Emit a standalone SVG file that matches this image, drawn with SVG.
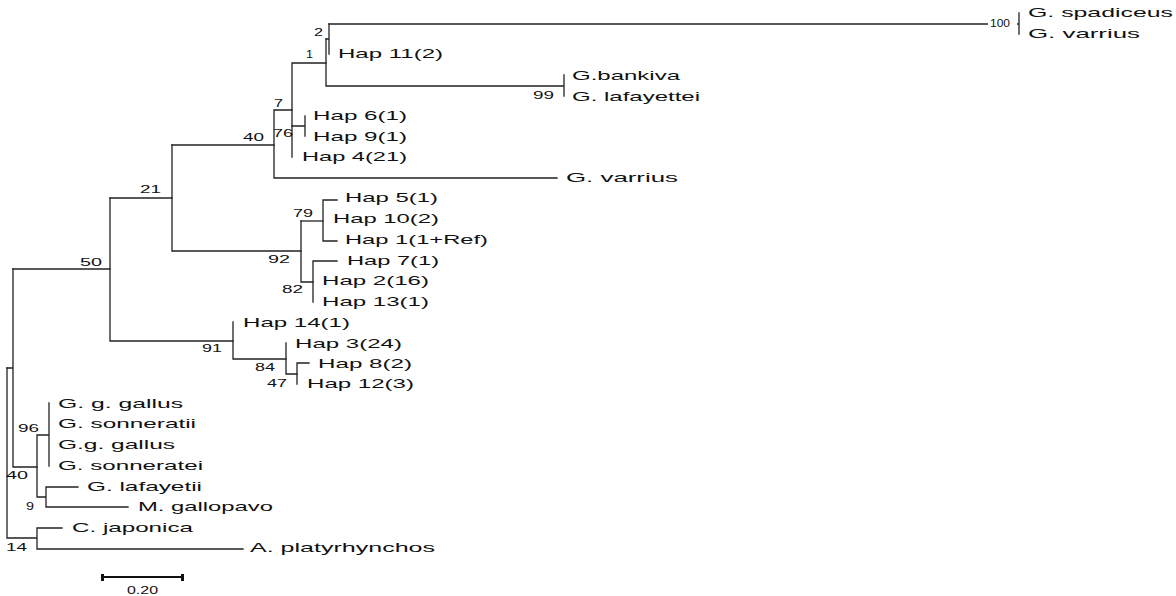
<svg xmlns="http://www.w3.org/2000/svg" width="1176" height="596" viewBox="0 0 1176 596">
<style>
.br{stroke:#222;stroke-width:1.3;fill:none;stroke-linecap:square}
.lf{font-family:"Liberation Sans",Arial,sans-serif;font-size:13px;fill:#111}
.bs{font-family:"Liberation Sans",Arial,sans-serif;font-size:10px;fill:#111}
</style>
<rect width="1176" height="596" fill="#fff"/>
<g id="connectors" class="br">
<path d="M329,24H1019M1019,13V34"/>
<path d="M329,24V54M326,39H329"/>
<path d="M326,39V86H564M564,75V96"/>
<path d="M292,63H326M292,63V157"/>
<path d="M292,126H305M305,116V136"/>
<path d="M274,110H292M274,110V178H557"/>
<path d="M172,145H274"/>
<path d="M323,200V241M323,200H337M323,241H337"/>
<path d="M301,221H323"/>
<path d="M313,261V302M313,261H337"/>
<path d="M301,221V282H313"/>
<path d="M172,251H301M172,145V251"/>
<path d="M110,198H172"/>
<path d="M297,363V384M297,363H309"/>
<path d="M286,374H297M286,343V374"/>
<path d="M233,359H286M233,322V359"/>
<path d="M110,341H233M110,198V341"/>
<path d="M13,269H110"/>
<path d="M49,403V466M37,435H49M37,435V497H46M46,487V507M46,487H78M46,507H128"/>
<path d="M13,467H37M13,269V467M7,368H13"/>
<path d="M37,528V549M37,528H62M37,549H243M7,538H37M7,368V538"/>
</g>
<g id="leaves" class="lf">
<g id="n-spadiceus"><text x="1028" y="16.5" textLength="145" lengthAdjust="spacingAndGlyphs">G. spadiceus</text></g>
<g id="n-varrius1"><text x="1028" y="37.5" textLength="112" lengthAdjust="spacingAndGlyphs">G. varrius</text></g>
<g id="n-hap11"><text x="338" y="57.5" textLength="105" lengthAdjust="spacingAndGlyphs">Hap 11(2)</text></g>
<g id="n-bankiva"><text x="572" y="79.5" textLength="108" lengthAdjust="spacingAndGlyphs">G.bankiva</text></g>
<g id="n-lafayettei"><text x="572" y="100.5" textLength="128" lengthAdjust="spacingAndGlyphs">G. lafayettei</text></g>
<g id="n-hap6"><text x="313" y="119.5" textLength="94" lengthAdjust="spacingAndGlyphs">Hap 6(1)</text></g>
<g id="n-hap9"><text x="313" y="140.5" textLength="94" lengthAdjust="spacingAndGlyphs">Hap 9(1)</text></g>
<g id="n-hap4"><text x="302" y="160.5" textLength="105" lengthAdjust="spacingAndGlyphs">Hap 4(21)</text></g>
<g id="n-varrius2"><text x="566" y="181.5" textLength="112" lengthAdjust="spacingAndGlyphs">G. varrius</text></g>
<g id="n-hap5"><text x="345" y="201.5" textLength="93" lengthAdjust="spacingAndGlyphs">Hap 5(1)</text></g>
<g id="n-hap10"><text x="333" y="222.5" textLength="106" lengthAdjust="spacingAndGlyphs">Hap 10(2)</text></g>
<g id="n-hap1"><text x="345" y="243.5" textLength="143" lengthAdjust="spacingAndGlyphs">Hap 1(1+Ref)</text></g>
<g id="n-hap7"><text x="347" y="264.5" textLength="92" lengthAdjust="spacingAndGlyphs">Hap 7(1)</text></g>
<g id="n-hap2"><text x="322" y="284.5" textLength="107" lengthAdjust="spacingAndGlyphs">Hap 2(16)</text></g>
<g id="n-hap13"><text x="322" y="305.5" textLength="107" lengthAdjust="spacingAndGlyphs">Hap 13(1)</text></g>
<g id="n-hap14"><text x="243" y="326.5" textLength="107" lengthAdjust="spacingAndGlyphs">Hap 14(1)</text></g>
<g id="n-hap3"><text x="295" y="347.5" textLength="107" lengthAdjust="spacingAndGlyphs">Hap 3(24)</text></g>
<g id="n-hap8"><text x="318" y="367.5" textLength="94" lengthAdjust="spacingAndGlyphs">Hap 8(2)</text></g>
<g id="n-hap12"><text x="307" y="387.5" textLength="107" lengthAdjust="spacingAndGlyphs">Hap 12(3)</text></g>
<g id="n-gallus1"><text x="58" y="407.5" textLength="125" lengthAdjust="spacingAndGlyphs">G. g. gallus</text></g>
<g id="n-sonneratii"><text x="58" y="427.5" textLength="138" lengthAdjust="spacingAndGlyphs">G. sonneratii</text></g>
<g id="n-gallus2"><text x="58" y="448.5" textLength="117" lengthAdjust="spacingAndGlyphs">G.g. gallus</text></g>
<g id="n-sonneratei"><text x="58" y="469.5" textLength="145" lengthAdjust="spacingAndGlyphs">G. sonneratei</text></g>
<g id="n-lafayetii"><text x="87" y="490.5" textLength="115" lengthAdjust="spacingAndGlyphs">G. lafayetii</text></g>
<g id="n-gallopavo"><text x="138" y="510.5" textLength="135" lengthAdjust="spacingAndGlyphs">M. gallopavo</text></g>
<g id="n-japonica"><text x="72" y="531.5" textLength="121" lengthAdjust="spacingAndGlyphs">C. japonica</text></g>
<g id="n-platyrhynchos"><text x="250" y="551.5" textLength="185" lengthAdjust="spacingAndGlyphs">A. platyrhynchos</text></g>
</g>
<g id="support" class="bs">
<g id="b100"><rect x="988" y="18" width="29" height="12" fill="#fff"/><text x="990" y="27" textLength="20" lengthAdjust="spacingAndGlyphs">100</text></g>
<g id="b2"><text x="314" y="35.6" textLength="9" lengthAdjust="spacingAndGlyphs">2</text></g>
<g id="b1"><text x="306" y="57.6" textLength="7" lengthAdjust="spacingAndGlyphs">1</text></g>
<g id="b99"><text x="533" y="98.6" textLength="21" lengthAdjust="spacingAndGlyphs">99</text></g>
<g id="b7"><text x="274" y="106.6" textLength="9" lengthAdjust="spacingAndGlyphs">7</text></g>
<g id="b76"><text x="273" y="136.6" textLength="20" lengthAdjust="spacingAndGlyphs">76</text></g>
<g id="b40a"><text x="243" y="140.6" textLength="21" lengthAdjust="spacingAndGlyphs">40</text></g>
<g id="b21"><text x="140" y="192.6" textLength="21" lengthAdjust="spacingAndGlyphs">21</text></g>
<g id="b79"><text x="293" y="216.6" textLength="20" lengthAdjust="spacingAndGlyphs">79</text></g>
<g id="b92"><text x="268" y="262.6" textLength="22" lengthAdjust="spacingAndGlyphs">92</text></g>
<g id="b82"><text x="282" y="292.6" textLength="21" lengthAdjust="spacingAndGlyphs">82</text></g>
<g id="b50"><text x="80" y="265.6" textLength="22" lengthAdjust="spacingAndGlyphs">50</text></g>
<g id="b91"><text x="202" y="351.6" textLength="20" lengthAdjust="spacingAndGlyphs">91</text></g>
<g id="b84"><text x="255" y="370.6" textLength="20" lengthAdjust="spacingAndGlyphs">84</text></g>
<g id="b47"><text x="267" y="386.6" textLength="20" lengthAdjust="spacingAndGlyphs">47</text></g>
<g id="b96"><text x="18" y="431.6" textLength="21" lengthAdjust="spacingAndGlyphs">96</text></g>
<g id="b40b"><text x="6" y="478.6" textLength="22" lengthAdjust="spacingAndGlyphs">40</text></g>
<g id="b9"><text x="26" y="509.6" textLength="8" lengthAdjust="spacingAndGlyphs">9</text></g>
<g id="b14"><text x="6" y="550.6" textLength="21" lengthAdjust="spacingAndGlyphs">14</text></g>
</g>
<g id="scalebar">
<path d="M102,577H183" stroke="#111" stroke-width="2" fill="none"/>
<rect x="101" y="574" width="3" height="7" fill="#111"/>
<rect x="181" y="574" width="3" height="7" fill="#111"/>
<text class="bs" x="127" y="593.6" textLength="31" lengthAdjust="spacingAndGlyphs">0.20</text>
</g>
</svg>
